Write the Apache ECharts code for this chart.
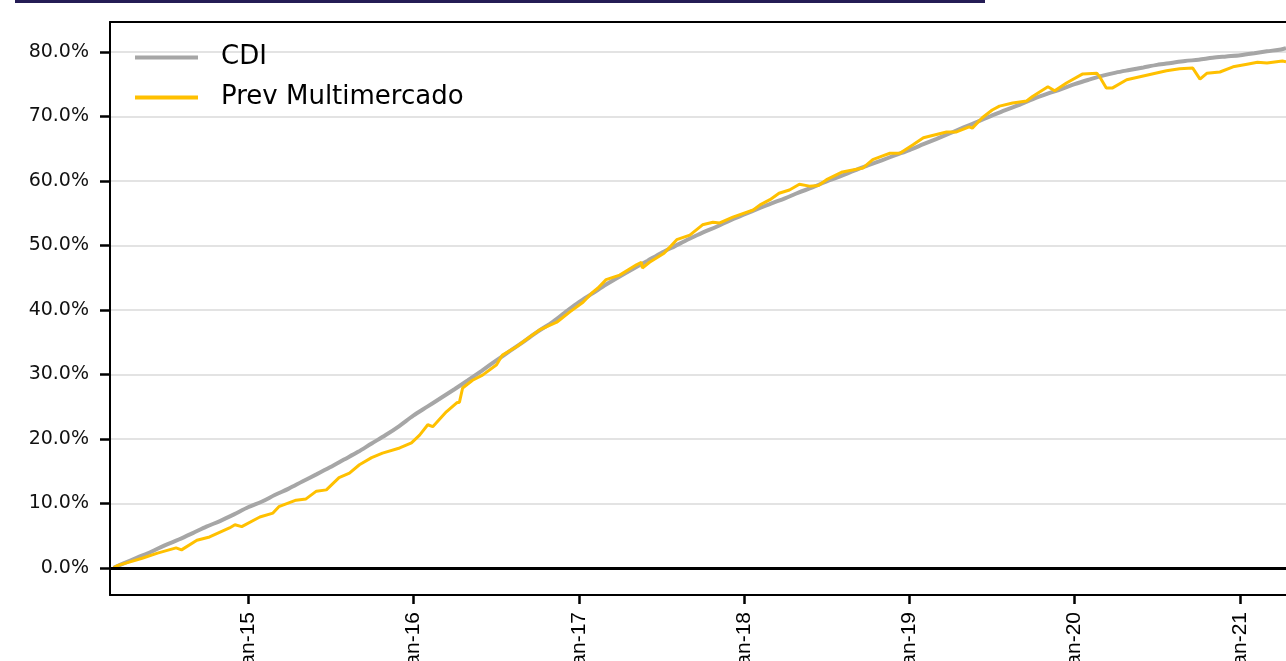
<!DOCTYPE html>
<html>
<head>
<meta charset="utf-8">
<script src="https://cdn.jsdelivr.net/npm/echarts@6/dist/echarts.min.js"></script>
<style>
  html, body { margin: 0; padding: 0; background: #fff; }
  #chart { width: 1286px; height: 661px; }
</style>
</head>
<body>
<div id="chart"></div>
<script>
// rentabilidade acumulada, em %
var seriesNames = ['CDI', 'Prev Multimercado']

var cdi = [
  ['2014-03-10', 0], ['2014-04-01', 0.7], ['2014-05-01', 1.6], ['2014-06-01', 2.5],
  ['2014-07-01', 3.5], ['2014-08-01', 4.4], ['2014-09-01', 5.4], ['2014-10-01', 6.4],
  ['2014-11-01', 7.3], ['2014-12-01', 8.3],
  ['2015-01-01', 9.4], ['2015-02-01', 10.3], ['2015-03-01', 11.3], ['2015-04-01', 12.3],
  ['2015-05-01', 13.4], ['2015-06-01', 14.5], ['2015-07-01', 15.6], ['2015-08-01', 16.8],
  ['2015-09-01', 18.0], ['2015-10-01', 19.3], ['2015-11-01', 20.6], ['2015-12-01', 22.0],
  ['2016-01-01', 23.6], ['2016-02-01', 25.0], ['2016-03-01', 26.3], ['2016-04-01', 27.7],
  ['2016-05-01', 29.1], ['2016-06-01', 30.6], ['2016-07-01', 32.1], ['2016-08-01', 33.6],
  ['2016-09-01', 35.1], ['2016-10-01', 36.6], ['2016-11-01', 38.0], ['2016-12-01', 39.6],
  ['2017-01-01', 41.2], ['2017-02-01', 42.6], ['2017-03-01', 43.9], ['2017-04-01', 45.2],
  ['2017-05-01', 46.4], ['2017-06-01', 47.6], ['2017-07-01', 48.8], ['2017-08-01', 49.9],
  ['2017-09-01', 51.0], ['2017-10-01', 52.0], ['2017-11-01', 52.9], ['2017-12-01', 53.9],
  ['2018-01-01', 54.8], ['2018-02-01', 55.7], ['2018-03-01', 56.5], ['2018-04-01', 57.3],
  ['2018-05-01', 58.2], ['2018-06-01', 59.0], ['2018-07-01', 59.9], ['2018-08-01', 60.7],
  ['2018-09-01', 61.6], ['2018-10-01', 62.4], ['2018-11-01', 63.2], ['2018-12-01', 64.0],
  ['2019-01-01', 64.8], ['2019-02-01', 65.7], ['2019-03-01', 66.5], ['2019-04-01', 67.4],
  ['2019-05-01', 68.3], ['2019-06-01', 69.2], ['2019-07-01', 70.1], ['2019-08-01', 71.0],
  ['2019-09-01', 71.8], ['2019-10-01', 72.7], ['2019-11-01', 73.5], ['2019-12-01', 74.2],
  ['2020-01-01', 75.0], ['2020-02-01', 75.7], ['2020-03-01', 76.3], ['2020-04-01', 76.8],
  ['2020-05-01', 77.2], ['2020-06-01', 77.6], ['2020-07-01', 78.0], ['2020-08-01', 78.3],
  ['2020-09-01', 78.6], ['2020-10-01', 78.8], ['2020-11-01', 79.1], ['2020-12-01', 79.3],
  ['2021-01-01', 79.5], ['2021-02-01', 79.8], ['2021-03-01', 80.1], ['2021-04-01', 80.4],
  ['2021-04-12', 80.6]
]

var prevMulti = [
  ['2014-03-10', 0], ['2014-03-20', 0.4], ['2014-05-12', 1.5], ['2014-06-15', 2.3],
  ['2014-07-26', 3.1], ['2014-08-07', 2.8], ['2014-09-10', 4.3], ['2014-10-08', 4.8],
  ['2014-11-21', 6.2], ['2014-12-03', 6.7], ['2014-12-18', 6.4], ['2015-01-27', 7.9],
  ['2015-02-25', 8.5], ['2015-03-10', 9.5], ['2015-04-17', 10.5], ['2015-05-09', 10.7],
  ['2015-06-01', 11.9], ['2015-06-23', 12.1], ['2015-07-21', 14.0], ['2015-08-13', 14.7],
  ['2015-09-04', 16.0], ['2015-10-01', 17.1], ['2015-10-25', 17.8], ['2015-12-02', 18.6],
  ['2015-12-28', 19.4], ['2016-01-15', 20.6], ['2016-02-02', 22.2], ['2016-02-13', 21.9],
  ['2016-03-14', 24.2], ['2016-04-06', 25.6], ['2016-04-12', 25.7], ['2016-04-19', 27.9],
  ['2016-05-11', 29.1], ['2016-06-02', 29.9], ['2016-07-03', 31.5], ['2016-07-16', 33.0],
  ['2016-08-16', 34.3], ['2016-09-14', 35.8], ['2016-10-06', 36.9], ['2016-11-13', 38.1],
  ['2016-12-12', 39.7], ['2017-01-10', 41.2], ['2017-01-29', 42.6], ['2017-02-12', 43.4],
  ['2017-03-02', 44.7], ['2017-04-01', 45.4], ['2017-05-08', 47.0], ['2017-05-19', 47.4],
  ['2017-05-21', 46.5], ['2017-06-06', 47.4], ['2017-07-08', 48.8], ['2017-08-05', 50.9],
  ['2017-09-03', 51.6], ['2017-10-01', 53.2], ['2017-10-24', 53.6], ['2017-11-08', 53.5],
  ['2017-12-07', 54.4], ['2018-01-21', 55.5], ['2018-02-05', 56.3], ['2018-02-27', 57.1],
  ['2018-03-19', 58.1], ['2018-04-11', 58.6], ['2018-05-03', 59.5], ['2018-05-25', 59.2],
  ['2018-06-14', 59.3], ['2018-07-02', 60.2], ['2018-08-06', 61.4], ['2018-09-20', 62.0],
  ['2018-10-12', 63.3], ['2018-11-03', 63.9], ['2018-11-19', 64.3], ['2018-12-11', 64.3],
  ['2019-01-09', 65.6], ['2019-02-01', 66.7], ['2019-02-23', 67.1], ['2019-03-24', 67.6],
  ['2019-04-15', 67.6], ['2019-05-13', 68.4], ['2019-05-20', 68.2], ['2019-06-11', 69.8],
  ['2019-07-03', 71.0], ['2019-07-19', 71.6], ['2019-08-17', 72.1], ['2019-09-17', 72.4],
  ['2019-09-30', 73.1], ['2019-11-03', 74.6], ['2019-11-18', 74.0], ['2019-12-14', 75.2],
  ['2020-01-19', 76.6], ['2020-02-19', 76.7], ['2020-02-26', 76.1], ['2020-03-11', 74.4],
  ['2020-03-24', 74.4], ['2020-04-25', 75.7], ['2020-06-08', 76.4], ['2020-07-22', 77.1],
  ['2020-08-20', 77.4], ['2020-09-18', 77.5], ['2020-10-04', 75.8], ['2020-10-19', 76.7],
  ['2020-11-17', 76.9], ['2020-12-16', 77.7], ['2021-01-16', 78.1], ['2021-02-08', 78.4],
  ['2021-03-01', 78.3], ['2021-04-04', 78.6], ['2021-04-12', 78.5]
]

var yTicks = [0, 10, 20, 30, 40, 50, 60, 70, 80]
var xMin = '2014-03-02'
var xMax = '2021-04-12'

var chart = echarts.init(document.getElementById('chart'))
var option = {
  animation: false,
  backgroundColor: '#fff',
  graphic: [
    // resto do título cortado no topo
    { type: 'rect', left: 15, top: 0, shape: { width: 970, height: 3 }, style: { fill: '#241c55' } }
  ],
  grid: {
    left: 110,
    top: 22,
    right: 0,
    bottom: 66,
    containLabel: false,
    outerBoundsMode: 'none'
  },
  legend: {
    orient: 'vertical',
    left: 135,
    top: 44,
    padding: 0,
    itemGap: 13,
    icon: 'rect',
    itemWidth: 63,
    itemHeight: 4,
    data: seriesNames,
    textStyle: {
      fontFamily: 'DejaVu Sans',
      fontSize: 26,
      lineHeight: 27,
      color: '#000',
      padding: [0, 0, 0, 18]
    }
  },
  xAxis: [
    {
      type: 'time',
      min: xMin,
      max: xMax,
      minInterval: 365 * 24 * 3600 * 1000,
      maxInterval: 366 * 24 * 3600 * 1000,
      axisLine: { show: true, onZero: false, lineStyle: { color: '#000', width: 2 } },
      axisTick: { show: true, length: 9, lineStyle: { color: '#000', width: 2.5 } },
      axisLabel: {
        rotate: 90,
        margin: 17,
        fontFamily: 'Liberation Sans Narrow, Liberation Sans',
        fontSize: 21,
        color: '#000',
        formatter: function (v) {
          var d = new Date(v)
          return 'Jan-' + String(d.getFullYear()).slice(2)
        }
      },
      splitLine: { show: false }
    },
    {
      type: 'time',
      position: 'top',
      min: xMin,
      max: xMax,
      axisLine: { show: true, onZero: false, lineStyle: { color: '#000', width: 2 } },
      axisTick: { show: false },
      axisLabel: { show: false },
      splitLine: { show: false }
    }
  ],
  yAxis: {
    type: 'value',
    min: -4.2,
    max: 84.65,
    splitNumber: 9,
    minInterval: 10,
    maxInterval: 10,
    axisLine: { show: true, lineStyle: { color: '#000', width: 2 } },
    axisTick: { show: true, length: 10, customValues: yTicks, lineStyle: { color: '#000', width: 2.5 } },
    axisLabel: {
      customValues: yTicks,
      margin: 21,
      fontFamily: 'DejaVu Sans',
      fontSize: 19,
      color: '#111',
      formatter: function (v) { return v.toFixed(1) + '%' }
    },
    splitLine: { show: true, lineStyle: { color: '#e3e3e3', width: 2 } }
  },
  series: [
    {
      name: seriesNames[0],
      type: 'line',
      data: cdi,
      showSymbol: false,
      symbol: 'none',
      smooth: 0.3,
      color: '#a6a6a6',
      lineStyle: { width: 4, color: '#a6a6a6' },
      markLine: {
        silent: true,
        symbol: ['none', 'none'],
        label: { show: false },
        lineStyle: { color: '#000', width: 3, type: 'solid' },
        data: [{ yAxis: 0 }]
      }
    },
    {
      name: seriesNames[1],
      type: 'line',
      data: prevMulti,
      showSymbol: false,
      symbol: 'none',
      color: '#ffc000',
      lineStyle: { width: 3, color: '#ffc000' }
    }
  ]
}
chart.setOption(option)
</script>
</body>
</html>
